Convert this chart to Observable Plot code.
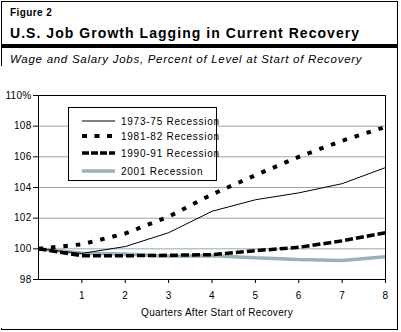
<!DOCTYPE html>
<html>
<head>
<meta charset="utf-8">
<script src="https://cdn.jsdelivr.net/npm/d3@7"></script>
<script src="https://cdn.jsdelivr.net/npm/@observablehq/plot@0.6"></script>
<style>
  html, body { margin: 0; padding: 0; background: white; }
  body { width: 401px; height: 332px; position: relative; overflow: hidden;
         font-family: "Liberation Sans", Arial, Helvetica, sans-serif; color: black; }
  #border { position: absolute; left: 1px; top: 1px; width: 397px; height: 329px;
            box-sizing: border-box; border: 1px solid black; }
  #fig { position: absolute; left: 10px; top: 7px; font-size: 10px; font-weight: bold; letter-spacing: 0.4px; }
  #title { position: absolute; left: 10px; top: 25px; font-size: 14px; font-weight: bold; white-space: nowrap; letter-spacing: 1.05px; }
  #rule { position: absolute; left: 1px; top: 44px; width: 397px; height: 4px; background: black; }
  #subtitle { position: absolute; left: 10px; top: 53px; font-size: 11.5px; font-style: italic; white-space: nowrap; letter-spacing: 0.72px; }
  #chart { position: absolute; left: 0px; top: 66px; }
  #legend { position: absolute; left: 68px; top: 107px; width: 149px; height: 74px; box-sizing: border-box;
            border: 1px solid black; background: white; font-size: 10px; letter-spacing: 0.75px; }
  .row { position: absolute; left: 13px; height: 14px; display: flex; align-items: center; white-space: nowrap; }
  .row svg { margin-right: 6px; }
</style>
</head>
<body>
<div id="border"></div>
<div id="fig">Figure 2</div>
<div id="title">U.S. Job Growth Lagging in Current Recovery</div>
<div id="rule"></div>
<div id="subtitle">Wage and Salary Jobs, Percent of Level at Start of Recovery</div>
<div id="chart"></div>
<div id="legend"></div>
<script>
// ---- Data ----
const quarters = [0, 1, 2, 3, 4, 5, 6, 7, 8];
const seriesNames = ["1973-75 Recession", "1981-82 Recession", "1990-91 Recession", "2001 Recession"];
const rec1973 = [100, 99.7, 100.15, 101.05, 102.45, 103.2, 103.65, 104.25, 105.3];
const rec1981 = [100, 100.3, 101.0, 102.1, 103.55, 104.8, 106.0, 107.05, 107.95];
const rec1990 = [100, 99.55, 99.55, 99.58, 99.62, 99.88, 100.1, 100.52, 101.05];
const rec2001 = [100, 99.72, 99.66, 99.52, 99.55, 99.42, 99.3, 99.24, 99.48];
const xTicks = [1, 2, 3, 4, 5, 6, 7, 8];
const yTicks = [98, 100, 102, 104, 106, 108, 110];
const yTickLabels = ["98", "100", "102", "104", "106", "108", "110%"];
const gridValues = [100, 102, 104, 106, 108];
const xLabel = "Quarters After Start of Recovery";

// ---- Styles ----
const gridColor = "#93abb6";
const grayLine = "#9db1b9";
const styles = {
  "1973-75 Recession": {stroke: "black", strokeWidth: 1, dash: null, legendDash: null},
  "1981-82 Recession": {stroke: "black", strokeWidth: 4, dash: "4.5,8", legendDash: "5,7.5"},
  "1990-91 Recession": {stroke: "black", strokeWidth: 3.5, dash: "8,3", legendDash: "7,2"},
  "2001 Recession": {stroke: grayLine, strokeWidth: 3.5, dash: null, legendDash: null}
};
const seriesValues = [rec1973, rec1981, rec1990, rec2001];
const tables = seriesNames.map((name, i) => quarters.map((q, j) => ({q, v: seriesValues[i][j], name})));
const drawOrder = [3, 0, 2, 1];

const chart = Plot.plot({
  width: 397,
  height: 262,
  marginLeft: 38,
  marginRight: 12,
  marginTop: 29,
  marginBottom: 49,
  style: {fontFamily: '"Liberation Sans", Arial, sans-serif', fontSize: "10px", background: "white", color: "black", overflow: "visible", letterSpacing: "0.3px"},
  x: {domain: [0, 8], ticks: xTicks, tickSize: 4, tickPadding: 8, tickFormat: d => String(d), label: null},
  y: {domain: [98, 110], ticks: yTicks, tickSize: 5, tickPadding: 2,
      tickFormat: d => yTickLabels[yTicks.indexOf(d)], label: null},
  marks: [
    Plot.ruleY(gridValues, {stroke: gridColor, strokeWidth: 1}),
    ...drawOrder.map(i => Plot.line(tables[i], {
      x: "q", y: "v",
      stroke: styles[seriesNames[i]].stroke,
      strokeWidth: styles[seriesNames[i]].strokeWidth,
      strokeDasharray: styles[seriesNames[i]].dash,
      strokeLinecap: "butt", strokeLinejoin: "miter"
    })),
    Plot.frame({stroke: "black", strokeWidth: 1}),
    Plot.text([xLabel], {frameAnchor: "bottom", dy: 36, dx: 5, text: d => d, fontSize: 10, letterSpacing: "0.1px"})
  ]
});
document.getElementById("chart").appendChild(chart);

// ---- Legend ----
const legend = document.getElementById("legend");
const rowTops = [6, 21, 38, 56];
seriesNames.forEach((name, i) => {
  const s = styles[name];
  const row = document.createElement("div");
  row.className = "row";
  row.style.top = rowTops[i] + "px";
  row.innerHTML = `<svg width="33" height="8"><line x1="0" x2="33" y1="4" y2="4" stroke="${s.stroke}" stroke-width="${s.strokeWidth}" ${s.legendDash ? `stroke-dasharray="${s.legendDash}"` : ""}/></svg><span>${name}</span>`;
  legend.appendChild(row);
});
</script>
</body>
</html>
